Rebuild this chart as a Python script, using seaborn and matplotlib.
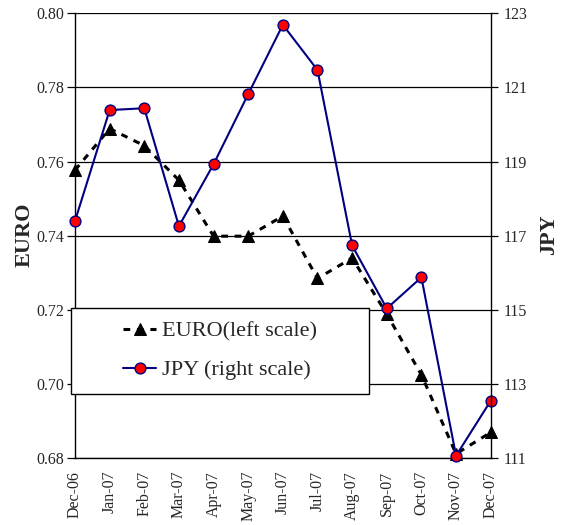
import matplotlib
matplotlib.use("Agg")
import matplotlib.pyplot as plt
import matplotlib.patches as patches
import seaborn as sns
import pandas as pd

months = ["Dec-06", "Jan-07", "Feb-07", "Mar-07", "Apr-07", "May-07", "Jun-07",
          "Jul-07", "Aug-07", "Sep-07", "Oct-07", "Nov-07", "Dec-07"]
euro = [0.7577, 0.7689, 0.7643, 0.7550, 0.7399, 0.7399, 0.7453,
        0.7285, 0.7340, 0.7189, 0.7025, 0.6812, 0.6870]
jpy = [117.40, 120.39, 120.44, 117.26, 118.93, 120.82, 122.69,
       121.47, 116.74, 115.04, 115.88, 111.07, 112.55]

df = pd.DataFrame({"pos": range(len(months)), "month": months, "euro": euro, "jpy": jpy})

sns.set_style("white")
plt.rcParams["font.family"] = ["Liberation Serif", "DejaVu Serif"]

fig = plt.figure(figsize=(5.64, 5.25), dpi=100)
ax = fig.add_axes([0.133, 0.127, 0.737, 0.8477])
ax2 = ax.twinx()

sns.lineplot(data=df, x="pos", y="euro", ax=ax, color="black", lw=2.2,
             linestyle=(0, (2.2, 2.2)), marker="^", markersize=8,
             markeredgecolor="black", label="EURO(left scale)", legend=False,
             clip_on=False)
sns.lineplot(data=df, x="pos", y="jpy", ax=ax2, color="#000080", lw=1.5,
             marker="o", markersize=7.8, markerfacecolor="red",
             markeredgecolor="#000080", markeredgewidth=1,
             label="JPY (right scale)", legend=False, clip_on=False)

ax.set_xlim(0, 12)
ax.set_ylim(0.68, 0.80)
ax2.set_ylim(111, 123)
ax.set_yticks([0.68, 0.70, 0.72, 0.74, 0.76, 0.78, 0.80])
ax.set_yticklabels([f"{v:.2f}" for v in ax.get_yticks()])
ax2.set_yticks(range(111, 124, 2))
ax.set_xticks(df["pos"])
ax.set_xticklabels(months, rotation=90)
ax.set_xlabel("")
ax.set_ylabel("")
ax2.set_ylabel("")

ax.yaxis.grid(True, color="black", lw=0.9)
ax.set_axisbelow(True)

for a in (ax, ax2):
    a.spines["top"].set_visible(False)
    for s in a.spines.values():
        s.set_color("black")
        s.set_linewidth(1.0)
ax.spines["right"].set_visible(False)
ax2.spines["left"].set_visible(False)
ax2.spines["bottom"].set_visible(False)

ax.tick_params(axis="y", direction="out", length=6, width=0.9, pad=2,
               labelsize=11.5, left=True, color="black")
ax.tick_params(axis="x", length=0, pad=9, labelsize=11.5)
ax2.tick_params(axis="y", direction="out", length=5, width=0.9, pad=4,
                labelsize=11.5, right=True, color="black")

fig.text(24.7 / 564, 1 - 234.5 / 525, "EURO", rotation=90, ha="center",
         va="center", fontsize=16, fontweight="bold")
fig.text(549 / 564, 1 - 235 / 525, "JPY", rotation=90, ha="center",
         va="center", fontsize=16, fontweight="bold")

# legend box
rect = patches.Rectangle((-0.0096, 0.1445), 0.7166, 0.1939, transform=ax2.transAxes,
                         facecolor="white", edgecolor="black", lw=1.0,
                         zorder=4, clip_on=False)
ax2.add_patch(rect)

h1, l1 = ax.get_legend_handles_labels()
h2, l2 = ax2.get_legend_handles_labels()
leg = ax2.legend(h1 + h2, l1 + l2, loc="center", bbox_to_anchor=(0.3487, 0.2415),
                 frameon=False, fontsize=16, handlelength=1.5, handletextpad=0.25,
                 labelspacing=0.8, borderpad=0)
leg.set_zorder(6)

fig.savefig("out.png", dpi=100)
